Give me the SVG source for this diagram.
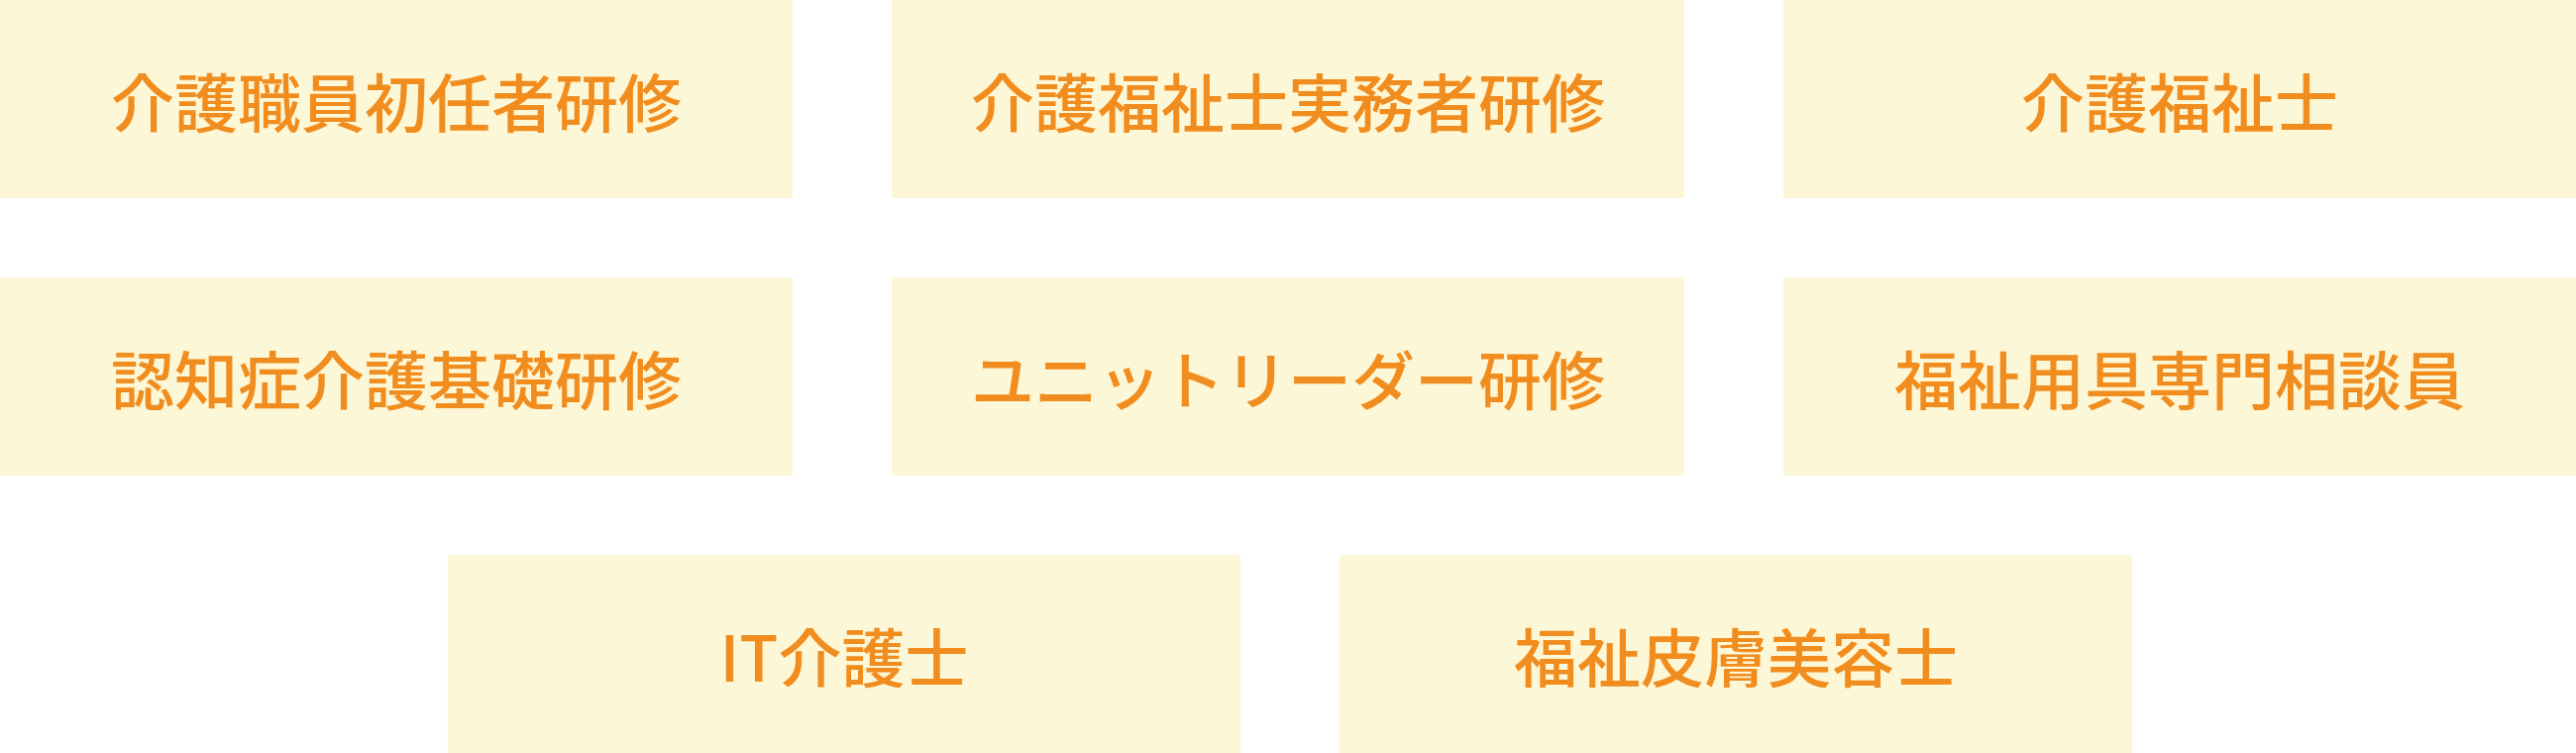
<svg xmlns="http://www.w3.org/2000/svg" width="2600" height="760" viewBox="0 0 2600 760">
<style>
.box{fill:#fcf7d6}
.lbl{fill:#f18d1f;font-family:"Noto Sans CJK JP","Noto Sans",sans-serif;font-size:64px;font-weight:500;text-anchor:middle;dominant-baseline:central}
</style>
<rect width="2600" height="760" fill="#ffffff"/>
<g id="n1"><rect class="box" x="0" y="0" width="800" height="200"/><text class="lbl" x="400" y="100">介護職員初任者研修</text></g>
<g id="n2"><rect class="box" x="900" y="0" width="800" height="200"/><text class="lbl" x="1300" y="100">介護福祉士実務者研修</text></g>
<g id="n3"><rect class="box" x="1800" y="0" width="800" height="200"/><text class="lbl" x="2200" y="100">介護福祉士</text></g>
<g id="n4"><rect class="box" x="0" y="280" width="800" height="200"/><text class="lbl" x="400" y="380">認知症介護基礎研修</text></g>
<g id="n5"><rect class="box" x="900" y="280" width="800" height="200"/><text class="lbl" x="1300" y="380">ユニットリーダー研修</text></g>
<g id="n6"><rect class="box" x="1800" y="280" width="800" height="200"/><text class="lbl" x="2200" y="380">福祉用具専門相談員</text></g>
<g id="n7"><rect class="box" x="452" y="560" width="800" height="200"/><text class="lbl" x="852" y="660">IT介護士</text></g>
<g id="n8"><rect class="box" x="1352" y="560" width="800" height="200"/><text class="lbl" x="1752" y="660">福祉皮膚美容士</text></g>
<g id="connectors"/>
</svg>
